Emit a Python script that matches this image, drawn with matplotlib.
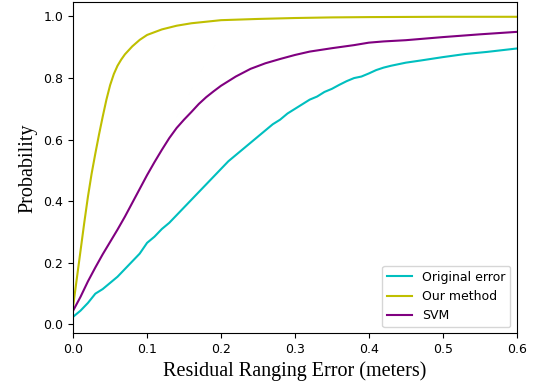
import matplotlib
matplotlib.use("Agg")
import matplotlib.pyplot as plt

# Data (CDF of residual ranging error)
x_orig = [0, 0.01, 0.02, 0.03, 0.04, 0.05, 0.06, 0.07, 0.08, 0.09, 0.10, 0.11, 0.12, 0.13,
          0.14, 0.15, 0.16, 0.17, 0.18, 0.19, 0.20, 0.21, 0.22, 0.23, 0.24, 0.25, 0.26, 0.27,
          0.28, 0.29, 0.30, 0.31, 0.32, 0.33, 0.34, 0.35, 0.36, 0.37, 0.38, 0.39, 0.40, 0.41,
          0.42, 0.43, 0.44, 0.45, 0.47, 0.50, 0.53, 0.56, 0.60]
y_orig = [0.025, 0.045, 0.07, 0.10, 0.115, 0.135, 0.155, 0.18, 0.205, 0.23, 0.265, 0.285, 0.31,
          0.33, 0.355, 0.38, 0.405, 0.43, 0.455, 0.48, 0.505, 0.53, 0.55, 0.57, 0.59, 0.61,
          0.63, 0.65, 0.665, 0.685, 0.70, 0.715, 0.73, 0.74, 0.755, 0.765, 0.778, 0.79, 0.80,
          0.805, 0.815, 0.826, 0.834, 0.840, 0.845, 0.850, 0.857, 0.868, 0.878, 0.885, 0.896]

x_ours = [0, 0.005, 0.01, 0.015, 0.02, 0.025, 0.03, 0.035, 0.04, 0.045, 0.05, 0.055, 0.06,
          0.065, 0.07, 0.08, 0.09, 0.10, 0.12, 0.14, 0.16, 0.18, 0.20, 0.25, 0.30, 0.35, 0.40,
          0.50, 0.60]
y_ours = [0.06, 0.15, 0.24, 0.33, 0.415, 0.49, 0.555, 0.617, 0.675, 0.73, 0.777, 0.813, 0.84,
          0.86, 0.877, 0.903, 0.924, 0.94, 0.958, 0.970, 0.978, 0.983, 0.988, 0.992, 0.995,
          0.997, 0.998, 0.999, 0.999]

x_svm = [0, 0.01, 0.02, 0.03, 0.04, 0.05, 0.06, 0.07, 0.08, 0.09, 0.10, 0.11, 0.12, 0.13, 0.14,
         0.15, 0.16, 0.17, 0.18, 0.19, 0.20, 0.22, 0.24, 0.26, 0.28, 0.30, 0.32, 0.35, 0.38,
         0.40, 0.42, 0.45, 0.50, 0.55, 0.60]
y_svm = [0.045, 0.09, 0.14, 0.185, 0.228, 0.268, 0.308, 0.35, 0.395, 0.44, 0.485, 0.527, 0.567,
         0.605, 0.638, 0.665, 0.69, 0.716, 0.738, 0.757, 0.775, 0.805, 0.83, 0.848, 0.862,
         0.875, 0.886, 0.897, 0.907, 0.915, 0.919, 0.923, 0.933, 0.942, 0.950]

labels = ["Original error", "Our method", "SVM"]
colors = ["c", "y", "purple"]

fig = plt.figure(figsize=(5.34, 3.85), dpi=100)
ax = fig.add_axes([0.137, 0.134, 0.8305, 0.86])

ax.plot(x_orig, y_orig, color=colors[0], lw=1.5, label=labels[0])
ax.plot(x_ours, y_ours, color=colors[1], lw=1.5, label=labels[1])
ax.plot(x_svm, y_svm, color=colors[2], lw=1.5, label=labels[2])

ax.set_xlim(0, 0.6)
ax.set_ylim(-0.029, 1.046)
ax.set_xticks([0.0, 0.1, 0.2, 0.3, 0.4, 0.5, 0.6])
ax.set_yticks([0.0, 0.2, 0.4, 0.6, 0.8, 1.0])
ax.tick_params(labelsize=9)

serif = ["Liberation Serif", "DejaVu Serif"]
ax.set_xlabel("Residual Ranging Error (meters)", family=serif, fontsize=14.5)
ax.set_ylabel("Probability", family=serif, fontsize=14.5)

ax.legend(loc="lower right", fontsize=9)

fig.savefig("out.png", dpi=100)
